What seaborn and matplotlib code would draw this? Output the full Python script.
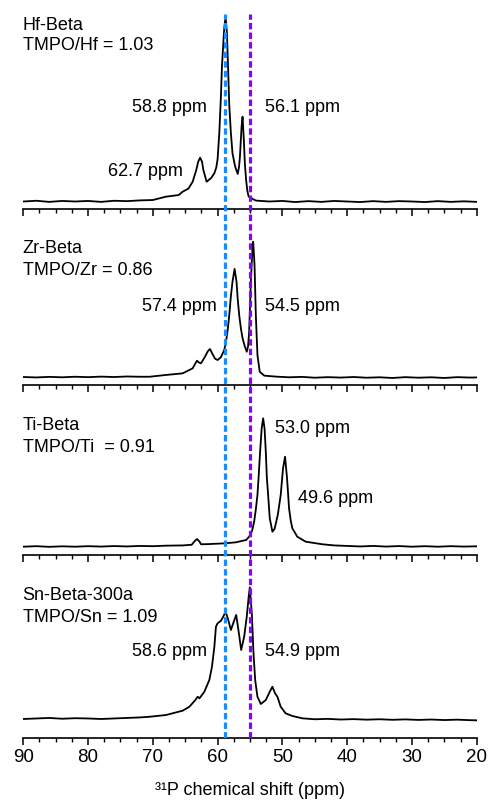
import matplotlib
matplotlib.use("Agg")
from matplotlib import pyplot as plt
from matplotlib.ticker import MultipleLocator
import seaborn as sns
import pandas as pd

# Spectra: chemical shift (ppm) and normalised intensity
hf_ppm = [90, 88, 86, 84, 82, 80, 78, 76, 74, 72, 70, 68, 66, 65.4, 64.5, 63.85, 63.3, 63.0, 62.7,
          62.4, 62.2, 61.7, 61.0, 60.5, 60.2, 60.0, 59.74, 59.5, 59.33, 59.1, 58.97, 58.77, 58.56,
          58.4, 58.2, 57.95, 57.7, 57.3, 56.9, 56.7, 56.56, 56.3, 56.15, 55.95, 55.8, 55.6, 55.4,
          55.2, 54.1, 52, 50, 48, 46, 44, 42, 40, 38, 36, 34, 32, 30, 28, 26, 24, 22, 20]
hf_int = [0.000, 0.004, -0.002, 0.003, 0.000, 0.003, -0.002, 0.004, 0.002, 0.006, 0.008, 0.026,
          0.035, 0.053, 0.070, 0.107, 0.170, 0.215, 0.237, 0.215, 0.170, 0.107, 0.127, 0.153,
          0.185, 0.230, 0.370, 0.560, 0.730, 0.870, 0.940, 1.000, 0.910, 0.740, 0.520, 0.370,
          0.260, 0.190, 0.149, 0.185, 0.240, 0.405, 0.459, 0.333, 0.210, 0.116, 0.055, 0.026,
          0.005, 0.000, 0.003, -0.003, 0.002, -0.002, 0.003, 0.000, -0.003, 0.002, -0.002,
          0.002, 0.000, -0.003, 0.002, -0.002, 0.001, -0.002]

zr_ppm = [90, 88, 86, 84, 82, 80, 78, 76, 74, 72, 70.5, 68, 65.4, 63.85, 63.5, 63.18, 62.9, 62.56,
          62.0, 61.5, 61.18, 60.8, 60.4, 60.0, 59.5, 58.97, 58.7, 58.45, 58.2, 57.95, 57.7, 57.38,
          57.08, 56.9, 56.67, 56.4, 56.15, 55.8, 55.5, 55.3, 55.13, 54.87, 54.6, 54.51, 54.3,
          54.1, 53.85, 53.5, 52.8, 51, 49, 47, 45, 43, 41, 39, 37, 35, 33, 31, 29, 27, 25, 23,
          21, 20]
zr_int = [0.005, 0.002, 0.006, 0.003, 0.007, 0.004, 0.008, 0.005, 0.009, 0.007, 0.007, 0.020,
          0.032, 0.069, 0.100, 0.125, 0.112, 0.106, 0.150, 0.195, 0.211, 0.175, 0.140, 0.130,
          0.150, 0.204, 0.265, 0.350, 0.461, 0.600, 0.706, 0.800, 0.706, 0.580, 0.461, 0.360,
          0.290, 0.230, 0.191, 0.230, 0.338, 0.706, 0.976, 1.000, 0.829, 0.461, 0.167, 0.044,
          0.015, 0.008, 0.003, 0.006, 0.000, 0.004, 0.001, 0.005, 0.000, 0.003, -0.002, 0.004,
          0.000, 0.003, -0.002, 0.004, 0.001, 0.002]

ti_ppm = [90, 88, 86, 84, 82, 80, 78, 76, 74, 72, 70, 68, 65.4, 64.0, 63.6, 63.18, 62.8, 62.56,
          61.5, 60.26, 58.97, 57.2, 55.6, 55.13, 54.7, 54.36, 54.1, 53.85, 53.65, 53.44, 53.2,
          52.97, 52.75, 52.56, 52.4, 52.2, 51.95, 51.54, 51.2, 50.7, 50.5, 50.26, 49.9, 49.59,
          49.28, 48.97, 48.7, 48.46, 47.7, 46.4, 43.85, 42, 40, 38, 36, 34, 32, 30, 28, 26, 24,
          22, 20]
ti_int = [0.000, 0.004, -0.001, 0.003, 0.000, 0.004, 0.001, 0.005, 0.002, 0.006, 0.004, 0.008,
          0.010, 0.015, 0.040, 0.060, 0.040, 0.019, 0.020, 0.023, 0.026, 0.034, 0.052, 0.078,
          0.120, 0.195, 0.290, 0.403, 0.560, 0.740, 0.920, 1.000, 0.920, 0.740, 0.540, 0.403,
          0.221, 0.117, 0.140, 0.250, 0.320, 0.403, 0.610, 0.701, 0.533, 0.299, 0.200, 0.143,
          0.078, 0.039, 0.019, 0.010, 0.006, 0.002, 0.006, 0.001, 0.005, 0.000, 0.004, 0.000,
          0.004, 0.001, 0.003]

sn_ppm = [90, 88, 86, 84, 82, 80, 78, 76, 74, 72, 70.5, 68, 65.4, 64.36, 63.44, 63.08, 62.8, 62.05,
          61.28, 60.87, 60.5, 60.26, 60.0, 59.5, 59.13, 58.77, 58.4, 57.95, 57.5, 57.13, 56.8,
          56.36, 55.9, 55.5, 55.2, 55.03, 54.72, 54.46, 54.2, 53.85, 53.33, 52.56, 51.95, 51.54,
          51.13, 50.77, 50.26, 49.5, 48.46, 46.9, 45, 43, 41, 39, 37, 35, 33, 31, 29, 27, 25, 23,
          21, 20]
sn_int = [0.000, 0.004, 0.008, 0.002, 0.006, 0.004, 0.000, 0.004, 0.008, 0.012, 0.017, 0.030,
          0.063, 0.093, 0.144, 0.169, 0.157, 0.207, 0.296, 0.397, 0.549, 0.701, 0.727, 0.745,
          0.777, 0.815, 0.760, 0.676, 0.740, 0.790, 0.680, 0.524, 0.625, 0.777, 0.930, 1.000,
          0.803, 0.499, 0.296, 0.169, 0.114, 0.144, 0.207, 0.245, 0.195, 0.169, 0.093, 0.043,
          0.023, 0.005, -0.002, 0.001, -0.004, -0.001, -0.005, -0.002, -0.006, -0.003, -0.007,
          -0.004, -0.008, -0.005, -0.009, -0.010]

sample_names = ["Hf-Beta", "Zr-Beta", "Ti-Beta", "Sn-Beta-300a"]
loadings = ["TMPO/Hf = 1.03", "TMPO/Zr = 0.86", "TMPO/Ti  = 0.91", "TMPO/Sn = 1.09"]
spectra = [(hf_ppm, hf_int), (zr_ppm, zr_int), (ti_ppm, ti_int), (sn_ppm, sn_int)]

# peak labels: (text, x in ppm, intensity, alignment)
peak_labels = [
    [("58.8 ppm", 61.65, 0.506, "right"), ("56.1 ppm", 52.7, 0.506, "left"),
     ("62.7 ppm", 65.35, 0.165, "right")],
    [("57.4 ppm", 60.15, 0.527, "right"), ("54.5 ppm", 52.7, 0.527, "left")],
    [("53.0 ppm", 51.16, 0.917, "left"), ("49.6 ppm", 47.65, 0.377, "left")],
    [("58.6 ppm", 61.6, 0.516, "right"), ("54.9 ppm", 52.7, 0.516, "left")],
]
ref_lines = [58.9, 55.0]
ref_colors = ["#1a8cff", "#8a00ff"]

sns.set_style("ticks")
plt.rcParams["font.family"] = ["Liberation Sans", "DejaVu Sans"]
plt.rcParams["font.size"] = 13
plt.rcParams["text.color"] = "black"
plt.rcParams["xtick.color"] = "black"
plt.rcParams["axes.edgecolor"] = "black"
plt.rcParams["axes.labelcolor"] = "black"

W, H = 488, 800
fig = plt.figure(figsize=(W / 100, H / 100), dpi=100)

x_left, x_right = 23.3, 476.7
# pixel rows (from top): axis top, axis line, baseline, peak top, name line centres
rows = [(8, 208.5, 201.5, 16.7, 25, 46),
        (220, 384.5, 377.7, 241.7, 248, 270),
        (392, 554.5, 546.7, 418.3, 425, 448),
        (565, 738.3, 719.0, 587.3, 595, 617)]


def px_rect(top, bottom):
    return [x_left / W, 1 - bottom / H, (x_right - x_left) / W, (bottom - top) / H]


axes = []
for i, ((top, axis_y, base_y, peak_y, n1, n2), (ppm, inten)) in enumerate(zip(rows, spectra)):
    ax = fig.add_axes(px_rect(top, axis_y))
    df = pd.DataFrame({"ppm": ppm, "I": inten})
    sns.lineplot(data=df, x="ppm", y="I", ax=ax, color="black", linewidth=1.3,
                 estimator=None)
    scale = base_y - peak_y
    ax.set_ylim(-(axis_y - base_y) / scale, (base_y - top) / scale)
    ax.set_xlim(90, 20)
    for s in ["left", "right", "top"]:
        ax.spines[s].set_visible(False)
    ax.spines["bottom"].set_linewidth(1.2)
    ax.set_yticks([])
    ax.set_ylabel("")
    ax.set_xlabel("")
    ax.xaxis.set_major_locator(MultipleLocator(10))
    ax.xaxis.set_minor_locator(MultipleLocator(2.5))
    ax.tick_params(axis="x", which="major", direction="out", length=5, width=1.1)
    ax.tick_params(axis="x", which="minor", direction="out", length=2.6, width=1.0)
    if i < 3:
        ax.tick_params(axis="x", labelbottom=False)
    else:
        ax.tick_params(axis="x", labelsize=13.5, pad=3)
        ax.set_xlabel("³¹P chemical shift (ppm)", fontsize=13, labelpad=11)
    # sample name and TMPO loading, top-left
    ax.text(90.1, (base_y - n1) / scale, sample_names[i], ha="left", va="center", fontsize=13)
    ax.text(90.1, (base_y - n2) / scale, loadings[i], ha="left", va="center", fontsize=13)
    for txt, xp, yp, ha in peak_labels[i]:
        ax.text(xp, yp, txt, ha=ha, va="center", fontsize=13)
    axes.append(ax)

# overlay axis for dashed reference lines across all panels
ov = fig.add_axes(px_rect(14, 738.3), sharex=axes[-1])
ov.patch.set_alpha(0)
ov.axis("off")
for xv, c in zip(ref_lines, ref_colors):
    ov.axvline(xv, color=c, linewidth=2.3, linestyle=(0, (2, 1)))
ov.set_xlim(90, 20)

fig.savefig("out.png", dpi=100)
